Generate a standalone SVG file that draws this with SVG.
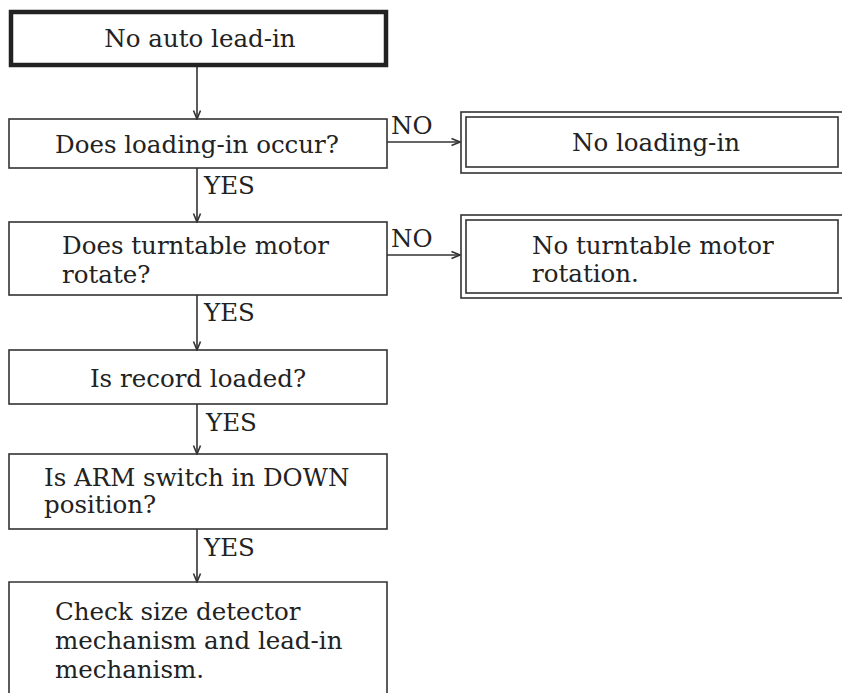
<svg xmlns="http://www.w3.org/2000/svg" width="842" height="693" viewBox="0 0 842 693">
<style>
text{font-family:"DejaVu Serif","Liberation Serif",serif;font-size:24.5px;fill:#222}
.box{fill:none;stroke:#333;stroke-width:1.6}
.thick{fill:none;stroke:#222;stroke-width:4.5}
.line{fill:none;stroke:#333;stroke-width:1.6}
.mid{text-anchor:middle}
</style>
<defs>
<marker id="ah" viewBox="0 0 10 10" refX="9.5" refY="5" markerWidth="10" markerHeight="10" markerUnits="userSpaceOnUse" orient="auto">
<path d="M1,1.5 L9.5,5 L1,8.5" fill="none" stroke="#333" stroke-width="1.6"/>
</marker>
</defs>
<rect width="842" height="693" fill="#fff"/>
<g id="connectors">
<line class="line" x1="197" y1="66" x2="197" y2="119" marker-end="url(#ah)"/>
<line class="line" x1="197" y1="168" x2="197" y2="222" marker-end="url(#ah)"/>
<line class="line" x1="197" y1="295" x2="197" y2="350" marker-end="url(#ah)"/>
<line class="line" x1="197" y1="404" x2="197" y2="454" marker-end="url(#ah)"/>
<line class="line" x1="197" y1="529" x2="197" y2="582" marker-end="url(#ah)"/>
<line class="line" x1="387" y1="142" x2="460" y2="142" marker-end="url(#ah)"/>
<line class="line" x1="387" y1="255" x2="460" y2="255" marker-end="url(#ah)"/>
<text x="204" y="194">YES</text>
<text x="204" y="321">YES</text>
<text x="206" y="431">YES</text>
<text x="204" y="556">YES</text>
<text x="391" y="134">NO</text>
<text x="391" y="247">NO</text>
</g>
<g id="start">
<rect class="thick" x="11" y="12" width="375" height="53"/>
<text class="mid" x="200" y="47">No auto lead-in</text>
</g>
<g id="q1">
<rect class="box" x="9" y="119" width="378" height="49"/>
<text class="mid" x="197" y="153">Does loading-in occur?</text>
</g>
<g id="r1">
<rect class="box" x="461" y="112" width="390" height="61"/>
<rect class="box" x="466" y="117" width="372" height="50"/>
<text class="mid" x="656" y="151">No loading-in</text>
</g>
<g id="q2">
<rect class="box" x="9" y="222" width="378" height="73"/>
<text x="62" y="254">Does turntable motor</text>
<text x="62" y="283">rotate?</text>
</g>
<g id="r2">
<rect class="box" x="461" y="215" width="390" height="83"/>
<rect class="box" x="466" y="220" width="372" height="73"/>
<text x="532" y="254">No turntable motor</text>
<text x="532" y="282">rotation.</text>
</g>
<g id="q3">
<rect class="box" x="9" y="350" width="378" height="54"/>
<text class="mid" x="198" y="387">Is record loaded?</text>
</g>
<g id="q4">
<rect class="box" x="9" y="454" width="378" height="75"/>
<text x="44" y="486">Is ARM switch in DOWN</text>
<text x="44" y="513">position?</text>
</g>
<g id="end">
<path class="box" d="M9,700 V582 H387 V700"/>
<text x="55" y="620">Check size detector</text>
<text x="55" y="649">mechanism and lead-in</text>
<text x="55" y="678">mechanism.</text>
</g>
</svg>
